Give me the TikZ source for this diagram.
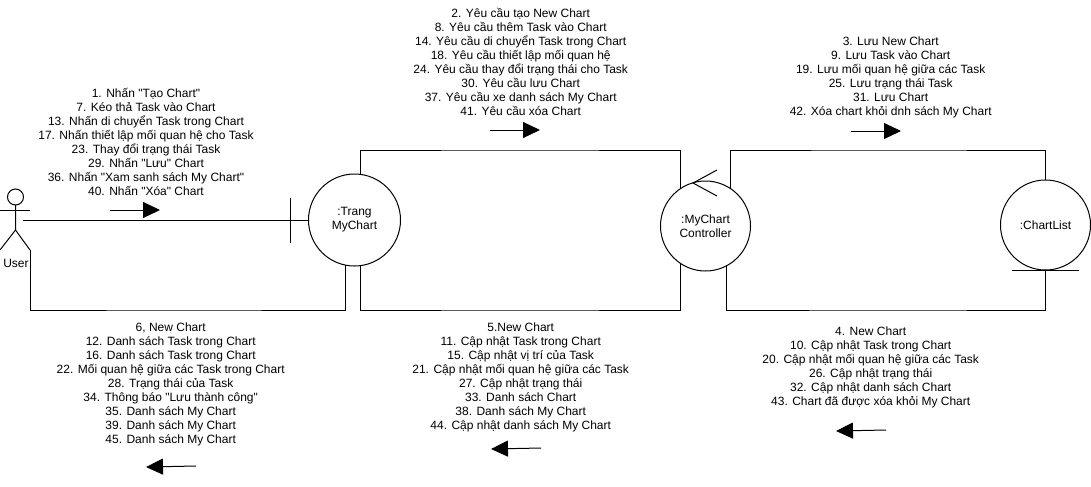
\documentclass[tikz,border=0pt]{standalone}
\usepackage{fontspec}
\usetikzlibrary{arrows.meta}
\newfontfamily\labelfont{Liberation Sans}
\tikzset{
    obj/.style={draw, circle, minimum size=#1, inner sep=0pt, outer sep=0pt, align=center, font=\labelfont\fontsize{9}{10.5}\selectfont},
    msg/.style={inner sep=0pt, align=center, font=\labelfont\fontsize{9}{10.5}\selectfont},
    dirarrow/.style={-{Triangle[length=12.75pt, width=12pt]}}
}
\begin{document}
\begin{tikzpicture}[x=0.75pt, y=-0.75pt, line width=0.75pt]
    \useasboundingbox (0,0) rectangle (1091,486);

    %az objektumok
    \node[obj=92*0.75pt] (trang) at (354.5,220) {:Trang\\MyChart};
    \node[obj=90*0.75pt] (ctrl) at (705.5,226) {:MyChart\\Controller};
    \node[obj=90*0.75pt] (list) at (1045.5,225) {:ChartList};

    %a user
    \node[obj=16*0.75pt] (head) at (15.5,197) {};
    \coordinate (armL) at (0,210);
    \coordinate (armR) at (30,210);
    \coordinate (hip) at (15.5,230);
    \coordinate (footL) at (0,250);
    \coordinate (footR) at (30,250);
    \coordinate (grip) at (23,220);
    \node[msg] (user) at (16,263) {User};
    \draw (head.south) -- (hip) -- (footL);
    \draw (hip) -- (footR);
    \draw (armL) -- (armR);

    %a kapcsolatok
    \coordinate (botU) at (180,310);
    \coordinate (topA) at (520,150);
    \coordinate (botA) at (520,310);
    \coordinate (topB) at (890,150);
    \coordinate (botB) at (890,310);
    \draw (grip) -- (trang.west);
    \draw (footR) |- (botU) -| (trang.259);
    \draw (trang.83) |- (topA) -| (ctrl.124.5);
    \draw (trang.277) |- (botA) -| (ctrl.236);
    \draw (ctrl.56) |- (topB) -| (list.north);
    \draw (ctrl.298.5) |- (botB) -| (list.south);

    %a jelek a korokon
    \coordinate (tickT) at (290,198);
    \coordinate (tickB) at (290,243);
    \draw (tickT) -- (tickB);
    \coordinate (lineL) at (1012,270);
    \coordinate (lineR) at (1079,270);
    \draw (lineL) -- (lineR);
    \coordinate (tipC) at (693,183);
    \coordinate (tipA) at (717,170);
    \coordinate (tipB) at (717,196);
    \draw (tipA) -- (tipC) -- (tipB);

    %az uzenetek
    \node[msg] (msgA) at (146,142) {1. Nhấn "Tạo Chart"\\7. Kéo thả Task vào Chart\\13. Nhấn di chuyển Task trong Chart\\17. Nhấn thiết lập mối quan hệ cho Task\\23. Thay đổi trạng thái Task\\29. Nhấn "Lưu" Chart\\36. Nhấn "Xam sanh sách My Chart"\\40. Nhấn "Xóa" Chart};
    \node[msg] (msgB) at (520.7,62) {2. Yêu cầu tạo New Chart\\8. Yêu cầu thêm Task vào Chart\\14. Yêu cầu di chuyển Task trong Chart\\18. Yêu cầu thiết lập mối quan hệ\\24. Yêu cầu thay đổi trạng thái cho Task\\30. Yêu cầu lưu Chart\\37. Yêu cầu xe danh sách My Chart\\41. Yêu cầu xóa Chart};
    \node[msg] (msgC) at (890.7,77) {3. Lưu New Chart\\9. Lưu Task vào Chart\\19. Lưu mối quan hệ giữa các Task\\25. Lưu trạng thái Task\\31. Lưu Chart\\42. Xóa chart khỏi dnh sách My Chart};
    \node[msg] (msgD) at (870.7,367.5) {4. New Chart\\10. Cập nhật Task trong Chart\\20. Cập nhật mối quan hệ giữa các Task\\26. Cập nhật trạng thái\\32. Cập nhật danh sách Chart\\43. Chart đã được xóa khỏi My Chart};
    \node[msg] (msgE) at (520.7,377) {5.New Chart\\11. Cập nhật Task trong Chart\\15. Cập nhật vị trí của Task\\21. Cập nhật mối quan hệ giữa các Task\\27. Cập nhật trạng thái\\33. Danh sách Chart\\38. Danh sách My Chart\\44. Cập nhật danh sách My Chart};
    \node[msg] (msgF) at (170.7,384) {6, New Chart\\12. Danh sách Task trong Chart\\16. Danh sách Task trong Chart\\22. Mối quan hệ giữa các Task trong Chart\\28. Trạng thái của Task\\34. Thông báo "Lưu thành công"\\35. Danh sách My Chart\\39. Danh sách My Chart\\45. Danh sách My Chart};

    %az iranyok
    \coordinate (dirAs) at (110,210);
    \coordinate (dirAe) at (160,210);
    \coordinate (dirBs) at (490,130);
    \coordinate (dirBe) at (540,130);
    \coordinate (dirCs) at (851,131);
    \coordinate (dirCe) at (901,131);
    \coordinate (dirDs) at (886,430);
    \coordinate (dirDe) at (836,431);
    \coordinate (dirEs) at (541,448);
    \coordinate (dirEe) at (491,449);
    \coordinate (dirFs) at (196,466);
    \coordinate (dirFe) at (146,467);
    \foreach \d in {A,B,C,D,E,F}
        \draw[dirarrow] (dir\d s) -- (dir\d e);
\end{tikzpicture}
\end{document}
